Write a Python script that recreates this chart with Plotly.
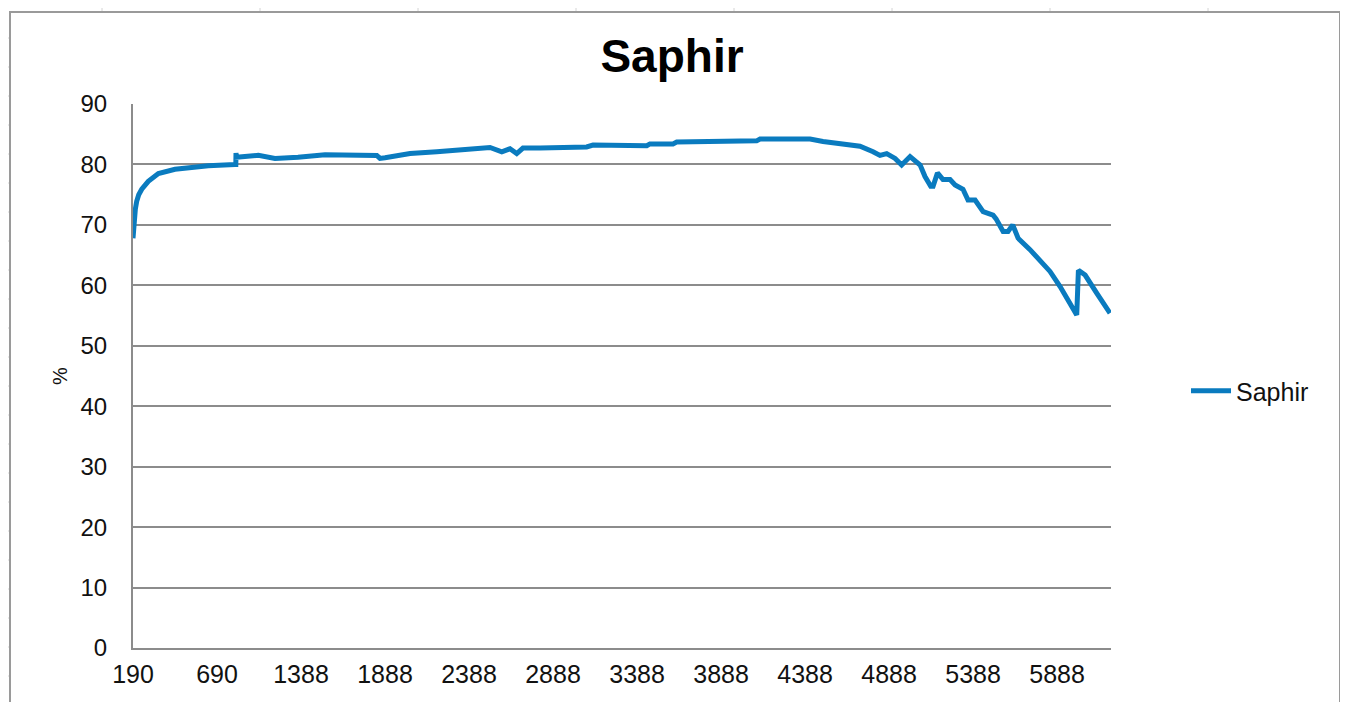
import plotly.graph_objects as go

# ---- data ----
tick_labels = ["190", "690", "1388", "1888", "2388", "2888", "3388",
               "3888", "4388", "4888", "5388", "5888"]
tick_positions = [0, 500, 1000, 1500, 2000, 2500, 3000, 3500, 4000, 4500, 5000, 5500]

sample_idx = [0, 4, 8, 14, 22, 34, 52, 91, 151, 250, 349, 448, 607, 612, 613, 615,
              746, 845, 982, 1143, 1451, 1470, 1500, 1649, 1808, 1964, 2125, 2195,
              2244, 2284, 2321, 2423, 2700, 2738, 2899, 3058, 3077, 3214, 3236, 3435,
              3452, 3712, 3732, 4030, 4107, 4226, 4327, 4405, 4446, 4486, 4536, 4575,
              4625, 4685, 4714, 4748, 4762, 4788, 4821, 4863, 4893, 4940, 4970, 5012,
              5060, 5119, 5137, 5179, 5208, 5236, 5268, 5339, 5409, 5458, 5518, 5577,
              5617, 5627, 5667, 5736, 5815]
saphir = [67.8, 69.5, 71.0, 72.6, 73.9, 75.0, 75.9, 77.2, 78.5, 79.2, 79.5, 79.8, 80.0, 80.0, 81.9, 81.2,
          81.5, 81.0, 81.2, 81.6, 81.5, 81.0, 81.1, 81.8, 82.1, 82.5, 82.8, 82.1,
          82.6, 81.8, 82.7, 82.7, 82.9, 83.2, 83.2, 83.1, 83.4, 83.4, 83.7, 83.7,
          83.9, 83.9, 84.2, 84.2, 83.8, 83.4, 83.0, 82.1, 81.5, 81.8, 81.0, 79.9,
          81.3, 79.9, 78.0, 76.4, 76.4, 78.6, 77.5, 77.5, 76.6, 75.9, 74.1, 74.1,
          72.2, 71.6, 71.0, 68.9, 68.9, 70.0, 67.8, 65.9, 63.9, 62.3, 59.8, 57.0,
          55.1, 62.5, 61.7, 58.7, 55.4]

# the page body has an 8px margin: work in screen pixels and shift by it
OFF = 8
SW, SH = 1348, 702                 # screen size
W, H = SW - OFF, SH - OFF          # figure size
PL, PR, PT, PB = 133, 1111, 104, 648   # plot-area edges on screen
L, R, T, B = PL - OFF, SW - PR, PT - OFF, SH - PB
PW, PH = PR - PL, PB - PT

def px(x):
    return (x - PL) / PW

def py(y):
    return (PB - y) / PH

FONT = "Liberation Sans, Arial, sans-serif"
LINE_COLOR = "#0A7BBF"
GRID = "#8c8c8c"

fig = go.Figure()
fig.add_trace(go.Scatter(
    x=sample_idx, y=saphir, mode="lines", name="Saphir",
    line=dict(color=LINE_COLOR, width=5),
))

shapes = []
# chart-area border (Excel chart object frame)
shapes.append(dict(type="rect", xref="paper", yref="paper",
                   x0=px(10), x1=px(1340), y0=py(720), y1=py(12),
                   line=dict(color="#9a9a9a", width=2), layer="below"))
# faint spreadsheet cell borders around the chart
for yy in range(38, 702, 29):
    shapes.append(dict(type="line", xref="paper", yref="paper",
                       x0=px(8), x1=px(9), y0=py(yy), y1=py(yy),
                       line=dict(color="#d4d4d4", width=1)))
    shapes.append(dict(type="line", xref="paper", yref="paper",
                       x0=px(1342), x1=px(1348), y0=py(yy), y1=py(yy),
                       line=dict(color="#d4d4d4", width=1)))
for xx in range(102, 1340, 158):
    shapes.append(dict(type="line", xref="paper", yref="paper",
                       x0=px(xx), x1=px(xx), y0=py(8), y1=py(11),
                       line=dict(color="#d4d4d4", width=1)))

fig.update_layout(
    width=W, height=H, autosize=False,
    margin=dict(l=L, r=R, t=T, b=B, pad=0),
    paper_bgcolor="white", plot_bgcolor="white",
    font=dict(family=FONT, color="#111111"),
    title=dict(text="<b>Saphir</b>", x=(672 - OFF) / W, xref="container", xanchor="center",
               y=1 - (56 - OFF) / H, yref="container", yanchor="middle",
               font=dict(family=FONT, size=46, color="#000000")),
    showlegend=True,
    legend=dict(x=px(1186), y=py(391), xanchor="left", yanchor="middle",
                font=dict(family=FONT, size=25, color="#111111"),
                bgcolor="rgba(0,0,0,0)", itemwidth=40),
    shapes=shapes,
    xaxis=dict(range=[0, 5821], tickmode="array", tickvals=tick_positions,
               ticktext=tick_labels, showgrid=False, zeroline=False,
               showline=True, linecolor=GRID, linewidth=2, ticks="",
               ticklabelstandoff=3,
               tickfont=dict(family=FONT, size=25, color="#111111")),
    yaxis=dict(range=[0, 90], tickmode="linear", tick0=0, dtick=10,
               showgrid=True, gridcolor=GRID, gridwidth=1.5,
               zeroline=False, showline=True, linecolor=GRID, linewidth=2,
               ticks="", ticklabelstandoff=19,
               tickfont=dict(family=FONT, size=24, color="#111111"),
               title=dict(text="%", standoff=7,
                          font=dict(family=FONT, size=20, color="#111111"))),
)

fig.write_html("out.html")
